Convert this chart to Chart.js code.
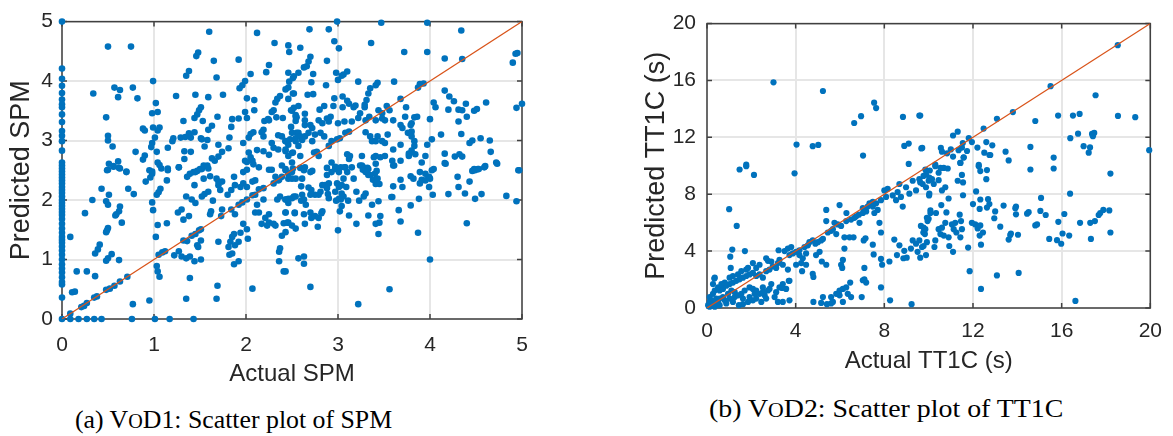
<!DOCTYPE html>
<html>
<head>
<meta charset="utf-8">
<script src="https://cdn.jsdelivr.net/npm/chart.js@4.4.1/dist/chart.umd.min.js"></script>
<style>
  body { margin: 0; background: #fff; width: 1173px; height: 436px; position: relative; overflow: hidden; }
  canvas { position: absolute; }
  .leyenda { position: absolute; font-family: "Liberation Serif", "Times New Roman", serif; font-size: 25.8px; line-height: 1; color: #000; white-space: nowrap; transform-origin: left top; }
  .versalita { font-size: 0.78em; }
</style>
</head>
<body>
<canvas id="grafico-spm" width="560" height="390" style="left:0;top:0"></canvas>
<canvas id="grafico-tt1c" width="553" height="380" style="left:620px;top:0"></canvas>
<div class="leyenda" style="left:75px;top:407px">(a) V<span class="versalita">O</span>D1: Scatter plot of SPM</div>
<div class="leyenda" style="left:709px;top:396px;transform:scaleX(1.08)">(b) V<span class="versalita">O</span>D2: Scatter plot of TT1C</div>
<script>
const ticksSPM = [0, 1, 2, 3, 4, 5];
const ticksTT1C = [0, 4, 8, 12, 16, 20];

// SPM real = 0, solo el valor predicho
const predichoSPMEnCero = [5, 4.21, 4.04, 3.92, 3.8, 3.69, 3.61, 3.56, 3.44, 3.31, 3.16, 3.08, 2.99, 2.83, 2.63, 2.58, 2.53, 2.48, 2.43, 2.38, 2.33, 2.28, 2.22, 2.17, 2.12, 2.06, 2.0, 1.95, 1.9, 1.85, 1.8, 1.75, 1.68, 1.6, 1.52, 1.45, 1.38, 1.33, 1.28, 1.22, 1.15, 1.08, 1.0, 0.92, 0.85, 0.78, 0.7, 0.62, 0.58, 0.36, 0];

// [real, predicho]
const puntosSPMBajos = [
  [0.5,2.51],[0.56,2.56],[0.63,2.53],[0.7,2.47],[0.43,2.19],[0.33,2.0],[0.51,2.09],[0.48,1.98],[0.5,1.92],[0.72,2.19],[0.78,2.1],[0.63,1.89],[0.62,1.81],[0.59,1.76],[0.58,1.74],[0.25,1.78],[0.65,1.62],[0.5,1.53],[0.48,1.46],[0.49,1.49],[0.09,1.38],[0.41,1.25],[0.39,1.17],[0.36,1.1],[0.54,1.09],[0.48,0.98],[0.5,1.02],[0.62,0.99],[0.16,0.8],[0.27,0.8],[0.36,0.72],[0.71,0.71],[0.63,0.63],[0.57,0.56],[0.52,0.51],[0.48,0.49],[0.38,0.38],[0.35,0.36],[0.27,0.27],[0.24,0.22],[0.21,0.2],[0.11,0.45],[0.14,0.46],[0.09,0.09],[0.77,0.25],[0.95,0.31],[0.09,0],[0.18,0],[0.27,0],[0.35,0],[0.43,0],[0.76,0],[1.01,0],[1.17,0],[1.43,0],
  [0.91,2.31],[0.96,2.38],[0.98,2.44],[0.95,2.5],[1.03,2.09],[1.05,2.13],[1.07,2.19],[0.98,1.96],[0.99,1.83],[1.04,1.58],[1.14,1.61],[1.02,1.38],[1.05,1.08],[1.09,1.12],[1.12,1.14],[1.03,0.89],[1.04,0.8],[1.06,0.71],[1.22,1.07],[1.27,1.14],[1.3,1.05],[1.35,1.02],[1.39,1.05],[1.44,0.97],[1.51,1.0],[1.39,0.69],[1.35,0.34],[1.14,2.33],[1.15,2.5],[1.27,2.55],[1.36,2.39],[1.39,2.44],[1.43,2.47],[1.47,2.49],[1.52,2.52],[1.58,2.58],[1.44,2.25],[1.35,2.06],[1.41,2.01],[1.45,1.95],[1.3,1.84],[1.26,1.79],[1.32,1.67],[1.38,1.73],[1.54,2.36],[1.61,2.4],[1.68,2.36],[1.7,2.31],[1.52,2.06],[1.55,2.1],[1.59,2.14],[1.64,1.99],[1.62,1.81],[1.61,1.76],[1.72,2.17],[1.74,2.31],[1.7,2.25],[1.73,1.73],
  [1.32,1.32],[1.36,1.31],[1.41,1.4],[1.45,1.43],[1.49,1.49],[1.51,1.51],[1.51,1.32],[1.47,1.24],[1.48,1.21],[1.7,1.3],[1.69,0.56],[1.68,0.34],
  [1.8,2.09],[1.84,2.17],[1.88,2.25],[1.94,2.22],[1.97,2.28],[2.01,2.22],[2.07,2.31],[2.1,2.33],[1.87,2.39],[1.97,2.47],[2.01,2.51],[2.14,2.55],[2.25,2.51],[2.32,2.39],[2.36,2.34],[2.43,2.5],[2.5,2.36],
  [1.74,1.84],[1.84,1.84],[1.88,1.76],[1.92,1.92],[1.96,1.96],[2.01,2.01],[2.07,2.08],[2.1,2.09],[2.14,2.18],[2.19,2.2],[2.3,2.28],[2.35,2.33],[2.39,2.39],[2.46,2.44],
  [1.97,1.6],[2.01,1.51],[1.94,1.45],[1.87,1.43],[1.85,1.38],[1.83,1.3],[1.81,1.21],[1.88,1.24],[1.92,1.3],[2.02,1.35],[1.82,1.08],[1.85,1.1],[1.87,0.92],[1.92,0.97],[2.07,0.51],
  [2.1,1.79],[2.14,1.79],[2.12,1.92],[2.19,2.01],[2.21,1.7],[2.25,1.62],[2.25,1.76],[2.17,1.6],[2.23,1.57],[2.3,1.6],[2.32,1.57],[2.34,2.01],[2.37,2.06],[2.43,2.01],[2.46,1.95],[2.52,2.06],[2.53,1.79],[2.43,1.79],[2.41,1.61],[2.46,1.62],[2.39,1.4],[2.43,1.46],[2.36,1.13],[2.37,1.19],[2.36,0.97],[2.41,0.8],[2.5,1.57]
];

const puntosSPMAltos = [
  [0.5,4.58],[0.75,4.58],[1.6,4.83],[2.12,4.81],[2.31,4.64],[2.46,4.6],[2.47,4.49],[1.48,4.48],[1.46,4.42],[1.65,4.34],[1.92,4.36],[2.25,4.27],[2.22,4.15],[2.05,4.12],[2.46,4.14],[2.51,4.05],[2.47,3.99],[1.38,4.17],[1.35,4.09],[1.68,4.06],[0.99,4.0],[1.99,4.0],[1.96,3.93],[1.93,3.88],[0.34,3.79],[0.57,3.89],[0.63,3.85],[0.77,3.89],[0.61,3.73],[0.82,3.71],[1.24,3.75],[1.45,3.77],[1.59,3.73],[1.75,3.77],[2.01,3.71],[2.09,3.68],[2.09,3.51],[2.34,3.7],[2.37,3.75],[2.52,3.79],[2.46,3.89],[2.32,3.64],[2.3,3.51],[2.28,3.48],[1.02,3.63],[1.04,3.48],[0.98,3.46],[0.48,3.39],[1.51,3.56],[1.49,3.51],[1.47,3.44],[1.44,3.38],[1.69,3.4],[1.32,3.33],[1.53,3.33],[1.63,3.25],[1.59,3.18],[1.85,3.36],[1.92,3.37],[2.01,3.38],[1.99,3.48],[2.2,3.33],[2.24,3.36],[2.19,3.18],[2.4,3.38],[2.33,3.39],[2.25,3.34],[2.5,3.5],[2.54,3.4],
  [0.88,3.2],[0.9,3.17],[0.99,3.22],[1.06,3.22],[1.04,3.17],[0.5,3.08],[0.5,3.0],[0.55,2.9],[1.01,3.05],[0.98,2.96],[0.97,2.89],[1.21,3.04],[1.2,2.99],[1.15,2.88],[1.29,3.05],[1.34,3.06],[1.38,3.12],[1.4,3.05],[1.44,3.14],[1.51,3.04],[1.52,3.02],[1.58,3.01],[1.55,2.9],[1.7,2.93],[1.84,3.23],[1.82,3.05],[1.97,2.96],[2.03,3.05],[2.05,3.11],[2.08,3.14],[2.19,3.07],[2.17,3.14],[2.28,2.96],[2.35,3.09],[2.39,3.07],[2.43,2.99],[2.46,2.93],[2.54,2.99],
  [0.8,2.81],[0.9,2.75],[0.88,2.68],[1.03,2.81],[1.33,2.82],[1.4,2.81],[1.33,2.69],[1.63,2.7],[1.66,2.66],[1.7,2.73],[1.74,2.81],[1.81,2.87],[2.12,2.84],[2.03,2.8],[2.05,2.72],[2.01,2.64],[2.07,2.66],[2.19,2.82],[2.25,2.76],[2.3,2.88],[2.35,2.85],[2.43,2.82],[2.46,2.74],[2.51,2.8],[0.51,2.61],[0.61,2.65],[0.56,2.57],[0.62,2.54],[0.49,2.5],[0.7,2.48],[0.98,2.48],[1.04,2.63],[1.06,2.59],[1.08,2.53],[1.15,2.53],[1.27,2.55],[1.45,2.47],[1.5,2.52],[1.54,2.58],[1.59,2.53],[1.99,2.66],[2.08,2.6],[2.28,2.51],[2.39,2.58],[2.43,2.52],[2.51,2.53]
];

const puntosSPMDerecha = [
  [2.99,5.0],[2.69,4.87],[2.9,4.87],[3.47,4.98],[3.97,4.98],[4.34,4.85],[2.96,4.67],[3.01,4.55],[2.59,4.56],[3.36,4.64],[3.72,4.49],[3.97,4.49],[4.16,4.38],[4.35,4.37],[4.93,4.46],[4.95,4.47],[4.9,4.31],[2.7,4.41],[2.68,4.33],[2.66,4.25],[2.63,4.23],[2.88,4.34],[2.57,4.14],[2.52,4.08],[2.73,4.12],[2.98,4.14],[3.06,4.11],[3.1,4.16],[3.04,4.09],[3.0,4.02],[2.71,3.98],[2.87,3.93],[3.22,3.99],[3.43,3.97],[3.41,3.93],[3.61,3.99],[3.35,3.88],[3.33,3.79],[3.89,3.95],[3.93,3.96],[3.87,3.89],[2.43,3.86],[2.51,3.79],[2.46,3.7],[2.67,3.77],[2.73,3.78],[2.96,3.71],[3.05,3.74],[3.1,3.67],[3.31,3.68],[3.29,3.6],[3.29,3.56],[3.68,3.7],[4.16,3.84],[4.21,3.74],[4.26,3.66],[4.04,3.64],[4.06,3.56],[4.39,3.62],[4.61,3.64],[5.0,3.62],[4.94,3.55],
  [2.49,3.51],[2.52,3.55],[2.57,3.58],[2.64,3.45],[2.8,3.52],[2.85,3.58],[2.95,3.58],[3.05,3.56],[3.12,3.62],[3.17,3.56],[3.19,3.59],[3.24,3.46],[3.44,3.51],[3.48,3.46],[3.53,3.58],[3.56,3.51],[3.74,3.56],[3.83,3.39],[3.86,3.4],[4.0,3.36],[4.2,3.52],[4.31,3.52],[4.35,3.51],[4.48,3.5],[4.51,3.53],[4.4,3.4],[4.31,3.32],
  [2.54,3.43],[2.55,3.39],[2.54,3.33],[2.49,3.23],[2.5,3.13],[2.55,3.13],[2.64,3.34],[2.64,3.26],[2.7,3.26],[2.72,3.21],[2.79,3.34],[2.88,3.37],[2.92,3.4],[2.9,3.32],[2.83,3.29],[3.0,3.29],[3.07,3.32],[3.15,3.32],[3.22,3.38],[3.3,3.34],[3.34,3.4],[3.41,3.34],[3.48,3.37],[3.51,3.34],[3.6,3.34],[3.68,3.26],[3.7,3.21],[3.73,3.4],[3.79,3.26],[3.8,3.29],[3.8,3.15],
  [2.43,2.99],[2.48,3.02],[2.54,3.04],[2.57,3.13],[2.59,3.07],[2.64,3.07],[2.61,3.01],[2.68,3.13],[2.75,3.1],[2.72,2.99],[2.81,3.13],[2.85,3.07],[2.9,2.91],[2.93,2.99],[2.99,3.02],[3.08,3.13],[3.12,3.15],[3.02,3.04],[3.3,3.14],[3.35,3.07],[3.37,2.99],[3.41,2.99],[3.43,3.07],[3.48,2.99],[3.51,2.96],[3.54,3.1],[3.6,2.85],[3.68,2.93],[3.76,3.13],[3.8,3.07],[3.83,2.99],[3.83,2.91],[3.8,2.83],[3.77,2.74],[3.97,2.93],[3.95,2.74],[4.02,3.02],[4.12,3.1],[4.34,3.11],[4.43,2.96],[4.46,3.0],[4.55,3.04],[4.65,3.0],[4.66,2.81],[4.72,2.63],[4.6,2.57],[4.16,2.78],[4.27,2.73],[4.32,2.77],[4.35,2.73],[4.48,2.52],[4.52,2.52],[4.16,2.62],[4.97,2.5],
  [2.43,2.85],[2.5,2.79],[2.57,2.91],[2.59,2.74],[2.74,2.8],[2.77,2.81],[2.79,2.74],[3.1,2.77],[3.12,2.69],[3.13,2.74],[3.26,2.74],[3.24,2.58],[3.39,2.72],[3.41,2.74],[3.46,2.72],[3.51,2.74],[3.59,2.66],[3.6,2.58],[3.68,2.66],[3.77,2.78],[3.84,2.77],[3.91,2.63],[2.93,2.63],[2.97,2.52],[3.03,2.55],[3.08,2.55],[2.64,2.55],[2.7,2.47],[2.5,2.63],[3.27,2.56],[3.33,2.52],[3.41,2.61],
  [2.88,2.54],[2.97,2.56],[3.01,2.52],[3.07,2.55],[3.15,2.55],[3.26,2.58],[3.32,2.54],[3.42,2.49],[3.4,2.44],[3.33,2.42],[2.5,2.47],[2.59,2.54],[2.63,2.5],[2.72,2.49],[2.61,2.36],[2.46,2.36],[2.54,2.36],[2.6,2.23],[2.68,2.21],[2.71,2.17],[2.88,2.42],[2.93,2.47],[3.01,2.47],[3.1,2.47],[3.06,2.36],[3.17,2.36],[3.27,2.51],[3.3,2.47],[2.83,2.25],[2.86,2.25],[2.9,2.28],[2.88,2.2],[2.81,2.14],[2.79,2.09],[2.75,2.09],[2.7,2.09],[2.99,2.28],[3.01,2.22],[3.04,2.25],[3.09,2.22],[2.97,2.14],[3.04,2.11],[3.06,2.06],[3.01,2.02],[2.98,1.99],[3.03,2.01],[3.11,1.99],[3.2,2.14],[3.3,2.11],[3.28,2.06],[3.23,1.99],[3.35,2.42],[3.38,2.34],[3.43,2.36],[3.41,2.27],[3.45,2.27],
  [3.61,2.58],[3.68,2.34],[3.7,2.22],[3.6,2.23],[3.59,2.05],[3.79,2.4],[3.82,2.36],[3.89,2.47],[3.91,2.34],[3.89,2.28],[3.95,2.33],[3.99,2.39],[4.02,2.5],[4.04,2.52],[4.0,2.36],[3.99,2.22],[4.03,2.09],[3.95,2.44],[4.17,2.61],[4.3,2.39],[4.31,2.22],[4.2,2.1],[4.38,2.11],[4.43,2.31],[4.46,2.49],[4.49,2.5],[4.53,2.52],[4.59,2.55],[4.73,2.61],[4.96,2.5],[4.49,2.02],[4.56,2.1],[4.83,2.07],[4.94,1.98],
  [2.43,2.01],[2.46,2.02],[2.5,2.03],[2.54,2.06],[2.61,2.09],[2.63,2.01],[2.65,1.92],[2.6,1.99],[2.43,1.79],[2.45,1.62],[2.53,1.78],[2.54,1.52],[2.63,1.76],[2.64,1.6],[2.7,1.79],[2.71,1.7],[2.75,1.73],[2.79,1.7],[2.82,1.78],[2.83,1.81],[2.78,1.55],[2.89,2.1],[2.9,2.03],[3.0,1.49],[3.02,1.81],[3.04,1.9],[3.12,1.74],[3.2,1.6],[3.33,1.74],[3.37,1.92],[3.44,1.98],[3.46,1.73],[3.45,1.62],[3.41,1.6],[3.44,1.43],[3.58,2.05],[3.66,1.83],[3.68,1.64],[3.79,1.91],[3.88,2.02],[3.87,1.45],[4.4,1.61],[2.57,1.02],[2.63,1.05],[2.63,0.93],[2.43,0.8],[2.7,0.54],[3.22,0.25],[3.56,0.5],[4.0,1.0]
];

// [real, predicho] en segundos
const puntosTT1CDiagonal = [
  [0.35,2.13],[0.27,1.68],[0.5,1.45],[0.57,1.23],[0.72,1.34],[0.87,1.57],[1.02,1.68],[1.17,1.79],[1.32,1.91],[1.47,2.02],[1.62,2.13],[1.77,2.25],[1.92,2.36],[2.07,2.47],[2.22,2.25],[2.37,2.36],[2.52,2.13],[2.67,2.59],[2.82,2.7],[2.97,2.93],[3.2,3.16],[0.12,0.77],[0.2,0.54],[0.27,0.32],[0.42,0.66],[0.57,0.66],[0.72,0.77],[0.95,1.0],[1.1,1.23],[1.25,1.11],[1.4,0.89],[1.55,1.0],[1.7,1.23],[1.92,1.45],[2.07,1.34],[2.22,1.23],[2.37,1.0],[2.6,0.89],[2.67,0.66],[2.82,1.34],[3.05,0.77],[3.2,0.43],[3.42,0.43],[3.72,0.54],[3.69,1.91],[3.42,1.68],[2.9,1.68],[2.52,1.45],[0.57,0.2],[0.87,0.32],[1.17,0.43],[1.44,0.2],[1.62,0.27],[1.85,0.43],[2.07,0.54],[2.22,0.66],[2.45,0.43],[0.12,0.09],[0.05,0.2],
  [0.27,1.0],[0.35,1.23],[0.8,1.79],[0.65,1.68],[1.02,2.13],[1.17,2.25],[1.4,2.36],[1.55,2.59],[1.77,2.7],[0.12,0.43],[0.35,0.09],[0.5,0.43],[0.8,0.54],[1.02,0.66],[1.25,0.77],[1.62,0.66],[1.92,0.77],[2.15,1.0],[2.52,1.11],[2.75,1.23],[3.12,1.11],[3.27,1.45],[3.57,1.34],
  [2.07,3.16],[1.85,2.82],[2.75,3.32],[3.23,4.06],[3.27,3.38],[3.72,3.72],[3.8,4.29],[4.02,3.95],[4.17,3.72],[4.32,3.5],[4.47,3.84],[4.62,4.63],[4.89,4.52],[5.15,4.75],[5.6,5.43],[5.75,5.99],[5.83,5.2],[6.2,4.97],[6.43,4.97],[6.61,4.97],[6.73,6.45],[6.88,5.99],[7.03,7.02],[7.18,6.79],[7.33,7.36],[7.48,7.47],[7.55,6.68],[7.7,6.9],[7.78,5.99],[7.85,5.31],[8.0,8.27],[8.15,8.38],[8.38,7.92],[8.53,7.58],[8.6,8.15],[8.68,8.72],[8.75,7.81],[8.83,7.13],[8.98,8.49],[9.13,8.04],[9.28,8.95],[9.43,8.27],[9.58,9.06],[9.73,8.72],[9.88,9.4],[10.03,9.17],[10.03,8.04],[9.95,6.11],
  [3.5,4.0],[3.65,4.18],[3.87,3.84],[4.17,4.06],[4.4,4.29],[4.55,4.41],[4.77,4.75],[5.0,4.63],[5.23,4.86],[5.45,5.31],[5.68,5.54],[5.9,5.88],[6.05,5.77],[6.28,6.11],[6.5,6.22],[6.65,6.34],[6.85,6.56],[7.03,6.68],[7.25,7.13],[7.48,7.13],[7.63,7.36],[7.85,7.58],[8.08,7.81],
  [2.67,3.5],[2.9,3.27],[2.37,3.04],[2.22,2.82],[3.12,2.82],[3.42,3.04],[3.65,2.7],[4.02,3.04],[4.47,3.04],[4.92,3.72],[5.08,3.95]
];

const puntosTT1CDispersos = [
  [3.0,15.87],[5.23,15.26],[7.54,14.44],[7.63,14.06],[6.95,13.49],[6.64,13.01],[8.84,13.44],[9.58,13.53],[4.04,11.49],[4.77,11.38],[5.02,11.47],[7.04,10.72],[8.9,11.4],[9.1,11.56],[9.67,11.22],[9.1,10.13],[1.77,10.08],
  [1.47,9.74],[1.77,9.97],[2.12,9.36],[3.95,9.47],[1.0,6.95],[1.34,5.77],[1.14,4.11],[1.05,3.61],[1.07,2.82],[1.71,4.0],[0.33,2.07],
  [5.38,6.9],[5.98,7.24],[6.29,6.68],[5.38,6.11],[6.2,4.18],[7.07,4.75],[7.15,4.9],[7.48,4.45],[7.52,3.77],[7.1,2.82],[7.85,3.45],[7.9,3.04],[8.23,3.27],[7.85,1.45],[8.26,0.54],[9.23,0.27],
  [8.45,4.81],[8.68,4.41],[8.9,4.02],[8.86,3.5],[9.01,3.54],[8.57,3.72],[9.2,4.18],[9.43,4.52],[9.58,4.75],[9.65,5.77],[9.76,5.31],[9.28,4.75],[9.5,3.95],[9.7,4.29],[9.88,3.72],[9.83,5.2],
  [6.13,3.38],[6.05,3.04],[6.1,2.82],[5.18,3.27],[5.38,3.04],[4.77,2.41],[4.8,2.18],[4.25,3.16],[4.29,2.59],[3.72,1.91],[3.39,1.41],
  [4.8,0.43],[5.15,0.36],[5.41,0.27],[5.6,0.77],[5.83,1.0],[5.98,1.23],[6.13,1.34],[6.28,1.45],[6.46,1.79],[5.98,0.89],[5.68,0.43],[6.35,1.0],[6.5,0.77],[5.23,0.77],[5.6,0.32],[6.13,0.43],[6.98,0.77],[7.18,1.79],[7.1,2.02],[7.03,1.95]
];

const puntosTT1CAltos = [
  [18.53,18.48],[15.5,15.6],[17.53,14.96],[13.8,13.78],[13.08,13.31],[12.48,12.62],[14.81,13.15],[15.84,13.53],[16.51,13.53],[16.81,13.65],[18.54,13.51],[19.32,13.42],[9.62,13.53],[11.1,12.13],[11.31,12.4],[11.81,11.94],[11.54,11.6],[11.95,11.67],[12.6,11.67],[12.87,11.44],[9.71,11.26],
  [10.55,11.26],[10.6,10.99],[10.83,10.88],[11.0,11.15],[11.35,11.1],[11.5,11.28],[11.73,11.04],[11.58,10.6],[11.43,10.2],[12.2,11.28],[12.51,10.92],[12.74,10.76],[13.47,10.99],[13.61,10.38],[14.59,11.33],[15.64,10.58],[16.39,11.94],[16.74,12.26],[17.37,12.24],[17.47,12.31],[17.41,12.08],[16.99,11.38],[17.28,11.29],[17.22,10.92],[19.95,11.1],[12.26,10.06],[10.3,10.08],
  [11.1,10.65],[11.58,10.58],[12.78,10.76],[15.64,9.81],[14.59,9.74],[18.2,9.45],[12.26,9.97],[12.63,9.7],[12.33,9.63],[12.6,9.06],[11.43,10.2],[11.5,9.36],[11.31,8.95],[11.55,8.83],[11.55,7.93],[12.14,8.2],[16.38,8.04],[15.07,7.74],[12.33,7.63],[12.68,7.65],[12.74,7.31],[12.63,7.06],[12.0,7.31],[12.3,6.97],[13.38,7.2],[13.0,6.79],[12.96,6.31],[13.23,5.72],[13.94,7.13],[13.91,7.02],[13.94,6.59],[14.44,6.63],[14.51,6.74],[14.81,5.81],[14.89,5.88],[15.04,6.83],[15.28,6.54],[15.85,6.06],[16.12,6.61],[16.83,5.99],[17.29,5.99],[17.5,6.11],[17.67,6.54],[17.74,6.68],[17.88,6.9],[18.15,6.86],[18.2,5.31],
  [13.71,5.24],[13.68,5.13],[14.03,5.15],[13.61,4.81],[15.44,4.86],[15.79,4.77],[15.98,4.52],[16.04,5.24],[16.34,5.09],[17.32,4.86],[11.95,5.99],[12.1,5.88],[12.21,5.59],[12.33,5.81],[12.45,5.31],[12.3,5.09],[12.36,4.45],[11.78,4.25],[11.85,2.59],[13.08,2.29],[14.06,2.47],[12.36,1.34],[16.62,0.5],[9.62,3.54],
  [10.08,6.68],[10.0,6.27],[9.77,5.65],[9.85,5.54],[10.3,4.75],[9.92,4.63],[9.77,4.36],[10.26,4.29],[11.1,3.95],[10.93,4.36],[11.43,4.97],[11.25,5.31],[11.13,5.54],[11.05,5.88],[11.2,5.99],[10.75,5.99],[10.6,5.65],[10.45,5.54],[10.53,5.2],[10.68,5.09],[10.9,4.97],[11.5,5.54],[11.46,6.11],[11.4,6.56],[10.57,7.24],[10.8,6.72],[10.08,6.86],[10.33,6.68],[9.92,6.34],
  [9.77,9.29],[9.85,9.74],[10.0,8.95],[10.15,9.06],[10.23,8.72],[10.45,9.51],[10.53,9.85],[10.68,9.85],[10.86,9.81],[10.75,8.49],[10.6,8.27],[10.45,8.99],[10.3,9.97],[10.05,9.67],[9.88,8.49],[9.62,8.83],[10.9,7.7],[10.02,7.92]
];

const marcoEjes = {
    id: 'marcoEjes',
    beforeDatasetsDraw(chart) {
        const { ctx, chartArea: a, scales: { x, y } } = chart;
        ctx.save();
        ctx.strokeStyle = '#404040';
        ctx.lineWidth = 1.5;
        ctx.strokeRect(a.left, a.top, a.right - a.left, a.bottom - a.top);
        ctx.beginPath();
        x.ticks.forEach(t => {
            const px = x.getPixelForValue(t.value);
            ctx.moveTo(px, a.bottom); ctx.lineTo(px, a.bottom - 5);
            ctx.moveTo(px, a.top); ctx.lineTo(px, a.top + 5);
        });
        y.ticks.forEach(t => {
            const py = y.getPixelForValue(t.value);
            ctx.moveTo(a.left, py); ctx.lineTo(a.left + 5, py);
            ctx.moveTo(a.right, py); ctx.lineTo(a.right - 5, py);
        });
        ctx.stroke();
        ctx.restore();
    }
};

document.addEventListener("DOMContentLoaded", () => {
    inicializarGraficos();
});

function crearDispersion(idCanvas, puntos, ticks, cfg) {
    const fuente = 'Liberation Sans';
    const minimo = ticks[0];
    const maximo = ticks[ticks.length - 1];
    const ejeComun = () => ({
        type: 'linear',
        min: minimo,
        max: maximo,
        afterBuildTicks: s => { s.ticks = ticks.map(v => ({ value: v })); },
        grid: { color: '#e6e6e6', lineWidth: 2, drawTicks: false },
        border: { display: false }
    });

    return new Chart(document.getElementById(idCanvas), {
        type: 'scatter',
        data: {
            datasets: [
                {
                    type: 'line',
                    data: [{ x: minimo, y: minimo }, { x: maximo, y: maximo }],
                    borderColor: '#D95319',
                    borderWidth: 1.2,
                    pointRadius: 0,
                    order: 0
                },
                {
                    data: puntos.map(([x, y]) => ({ x, y })),
                    backgroundColor: '#0072BD',
                    pointRadius: cfg.radio,
                    pointBorderWidth: 0,
                    clip: false,
                    order: 1
                }
            ]
        },
        options: {
            responsive: false,
            animation: false,
            devicePixelRatio: 1,
            events: [],
            layout: { padding: { top: 14, right: cfg.margenDerecho, left: 0, bottom: 0 } },
            plugins: { legend: { display: false }, tooltip: { enabled: false } },
            scales: {
                x: Object.assign(ejeComun(), {
                    afterFit: s => { s.height = cfg.altoX; },
                    ticks: { padding: cfg.rellenoTicksX, color: '#262626', font: { family: fuente, size: 21 } },
                    title: { display: true, text: cfg.tituloX, color: '#262626', font: { family: fuente, size: 24 }, padding: { top: 0, bottom: cfg.rellenoTituloX } }
                }),
                y: Object.assign(ejeComun(), {
                    afterFit: s => { s.width = cfg.anchoY; },
                    ticks: { padding: cfg.rellenoTicksY, color: '#262626', font: { family: fuente, size: 21 } },
                    title: { display: true, text: cfg.tituloY, color: '#262626', font: { family: fuente, size: 27 }, padding: { top: cfg.rellenoTituloY, bottom: 0 } }
                })
            }
        },
        plugins: [marcoEjes]
    });
}

function inicializarGraficos() {
    const puntosSPM = predichoSPMEnCero.map(v => [0, v])
        .concat(puntosSPMBajos, puntosSPMAltos, puntosSPMDerecha);
    crearDispersion('grafico-spm', puntosSPM, ticksSPM, {
        radio: 3.3,
        margenDerecho: 38,
        altoX: 71,
        anchoY: 62,
        rellenoTicksX: 14,
        rellenoTicksY: 9,
        rellenoTituloX: 1,
        rellenoTituloY: 5,
        tituloX: 'Actual SPM',
        tituloY: 'Predicted SPM'
    });

    const puntosTT1C = puntosTT1CDiagonal.concat(puntosTT1CDispersos, puntosTT1CAltos);
    crearDispersion('grafico-tt1c', puntosTT1C, ticksTT1C, {
        radio: 3.1,
        margenDerecho: 22,
        altoX: 72,
        anchoY: 87,
        rellenoTicksX: 11,
        rellenoTicksY: 11,
        rellenoTituloX: 4,
        rellenoTituloY: 20,
        tituloX: 'Actual TT1C (s)',
        tituloY: 'Predicted TT1C (s)'
    });
}
</script>
</body>
</html>
